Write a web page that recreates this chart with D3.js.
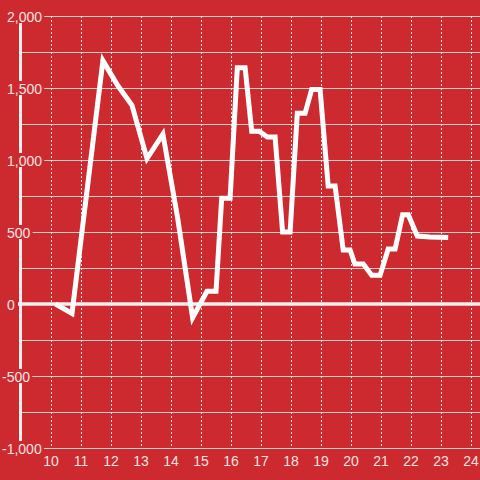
<!DOCTYPE html>
<html>
<head>
<meta charset="utf-8">
<script src="https://cdn.jsdelivr.net/npm/d3@7"></script>
<style>
html,body{margin:0;padding:0;background:#cc2a2f;}
svg{display:block;}
text{font-family:"Liberation Sans",Arial,Helvetica,sans-serif;}
</style>
</head>
<body>
<svg id="chart" width="480" height="480"></svg>
<script>
// Data (hour of day, value)
const hours = [10.15, 10.7, 11.73, 12.23, 12.7, 13.2, 13.73, 14.22, 14.72, 15.2, 15.5, 15.69, 15.97, 16.21, 16.47, 16.69, 16.94, 17.21, 17.47, 17.72, 17.97, 18.21, 18.47, 18.69, 18.97, 19.24, 19.47, 19.74, 19.97, 20.13, 20.41, 20.69, 20.97, 21.24, 21.47, 21.72, 21.91, 22.21, 22.63, 23.24];
const values = [0, -65, 1690, 1515, 1380, 1010, 1180, 600, -95, 88, 88, 735, 735, 1640, 1640, 1200, 1200, 1160, 1160, 500, 500, 1325, 1325, 1490, 1490, 820, 820, 375, 375, 278, 278, 200, 200, 382, 382, 620, 620, 472, 466, 462];
const xTicks = [10, 11, 12, 13, 14, 15, 16, 17, 18, 19, 20, 21, 22, 23, 24];
const yTicks = [-1000, -500, 0, 500, 1000, 1500, 2000];
const yGrid = [-1000, -750, -500, -250, 0, 250, 500, 750, 1000, 1250, 1500, 1750, 2000];

const W = 480, H = 480;
const bg = "#cc2a2f";
const svg = d3.select("#chart");
svg.append("rect").attr("width", W).attr("height", H).attr("fill", bg);

const x = d3.scaleLinear().domain([10, 24]).range([51, 471]);
const y = d3.scaleLinear().domain([-1000, 2000]).range([448, 16]);

// horizontal grid
svg.append("g").selectAll("line").data(yGrid).join("line")
  .attr("x1", 20).attr("x2", W)
  .attr("y1", d => y(d)).attr("y2", d => y(d))
  .attr("stroke", "#cfcfcf").attr("stroke-width", 1)
  .attr("shape-rendering", "crispEdges");

// vertical dashed grid
svg.append("g").selectAll("line").data(xTicks).join("line")
  .attr("x1", d => x(d)).attr("x2", d => x(d))
  .attr("y1", y(2000)).attr("y2", y(-1000))
  .attr("stroke", "#f2e4e4").attr("stroke-width", 1)
  .attr("stroke-dasharray", "2,2")
  .attr("shape-rendering", "crispEdges");

// y axis line
svg.append("line").attr("x1", 20.5).attr("x2", 20.5)
  .attr("y1", y(2000)).attr("y2", y(-1000))
  .attr("stroke", "#f4eeee").attr("stroke-width", 3);

// zero line
svg.append("line").attr("x1", 18).attr("x2", W)
  .attr("y1", y(0)).attr("y2", y(0))
  .attr("stroke", "#f4eeee").attr("stroke-width", 3.5);

// data line
const pts = hours.map((h, i) => [h, values[i]]);
svg.append("path").datum(pts)
  .attr("d", d3.line().x(d => x(d[0])).y(d => y(d[1])))
  .attr("fill", "none").attr("stroke", "#ffffff")
  .attr("stroke-width", 5).attr("stroke-linejoin", "miter");

// y labels with background boxes
const fmt = d3.format(",");
const yl = svg.append("g");
yTicks.forEach(v => {
  const g = yl.append("g");
  const t = g.append("text")
    .attr("x", v < 0 ? 2 : 7).attr("y", y(v) + 5.5)
    .attr("font-size", 14).attr("fill", "#f6e3e3")
    .text(fmt(v).replace("−", "-"));
  const bb = t.node().getBBox();
  g.insert("rect", "text")
    .attr("x", bb.x - 2).attr("y", y(v) - 7)
    .attr("width", bb.width + 4).attr("height", 14)
    .attr("fill", bg);
});

// x labels
svg.append("g").selectAll("text").data(xTicks).join("text")
  .attr("x", d => x(d)).attr("y", 466)
  .attr("text-anchor", "middle")
  .attr("font-size", 14).attr("fill", "#f6e3e3")
  .text(d => d);
</script>
</body>
</html>
